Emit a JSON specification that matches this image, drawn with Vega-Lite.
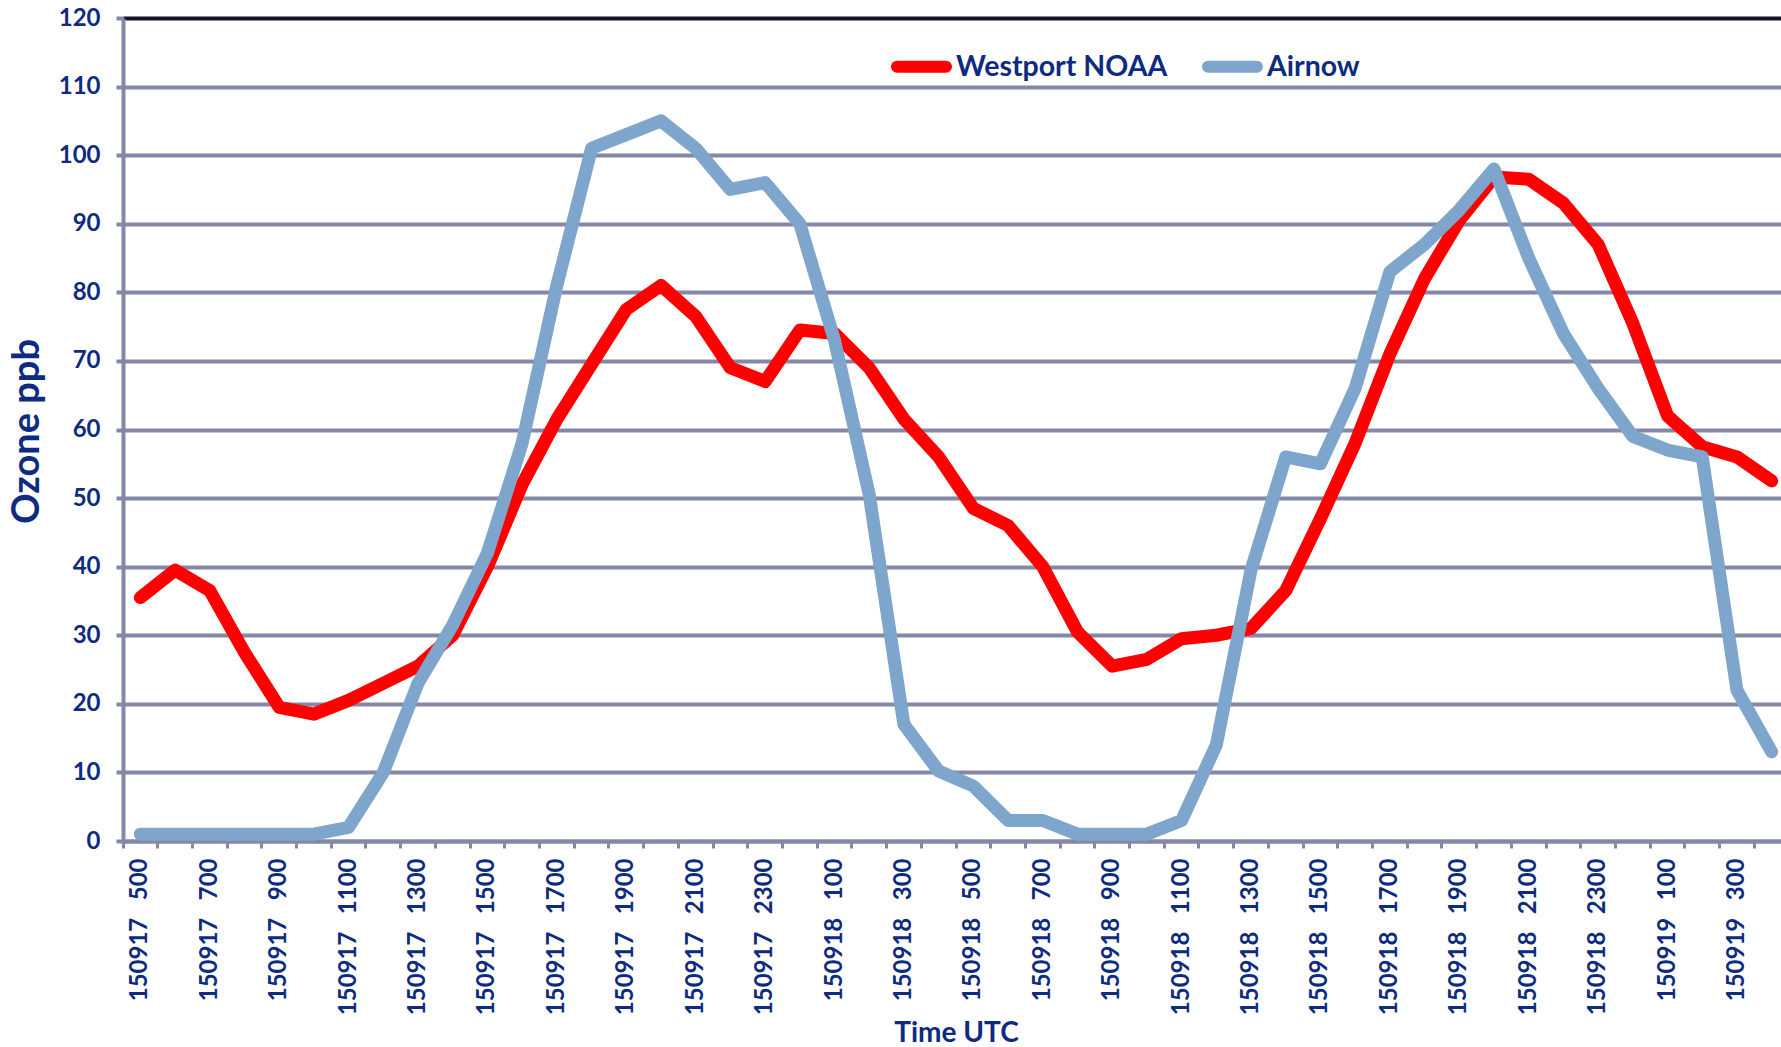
{
  "$schema": "https://vega.github.io/schema/vega-lite/v6.json",
  "width": 1658,
  "height": 823,
  "autosize": {"type": "none"},
  "padding": {"left": 123, "top": 18, "right": 0, "bottom": 206},
  "background": "white",
  "config": {"view": {"stroke": null}, "font": "Lato"},
  "data": {"values": [
    {"t":"150917 500","s":"Westport NOAA","v":35.5},
    {"t":"150917 600","s":"Westport NOAA","v":39.5},
    {"t":"150917 700","s":"Westport NOAA","v":36.5},
    {"t":"150917 800","s":"Westport NOAA","v":27.5},
    {"t":"150917 900","s":"Westport NOAA","v":19.5},
    {"t":"150917 1000","s":"Westport NOAA","v":18.5},
    {"t":"150917 1100","s":"Westport NOAA","v":20.5},
    {"t":"150917 1200","s":"Westport NOAA","v":23},
    {"t":"150917 1300","s":"Westport NOAA","v":25.5},
    {"t":"150917 1400","s":"Westport NOAA","v":30},
    {"t":"150917 1500","s":"Westport NOAA","v":40},
    {"t":"150917 1600","s":"Westport NOAA","v":52},
    {"t":"150917 1700","s":"Westport NOAA","v":61.5},
    {"t":"150917 1800","s":"Westport NOAA","v":69.5},
    {"t":"150917 1900","s":"Westport NOAA","v":77.5},
    {"t":"150917 2000","s":"Westport NOAA","v":81},
    {"t":"150917 2100","s":"Westport NOAA","v":76.5},
    {"t":"150917 2200","s":"Westport NOAA","v":69},
    {"t":"150917 2300","s":"Westport NOAA","v":67},
    {"t":"150918 0","s":"Westport NOAA","v":74.5},
    {"t":"150918 100","s":"Westport NOAA","v":74},
    {"t":"150918 200","s":"Westport NOAA","v":69},
    {"t":"150918 300","s":"Westport NOAA","v":61.5},
    {"t":"150918 400","s":"Westport NOAA","v":56},
    {"t":"150918 500","s":"Westport NOAA","v":48.5},
    {"t":"150918 600","s":"Westport NOAA","v":46},
    {"t":"150918 700","s":"Westport NOAA","v":40},
    {"t":"150918 800","s":"Westport NOAA","v":30.5},
    {"t":"150918 900","s":"Westport NOAA","v":25.5},
    {"t":"150918 1000","s":"Westport NOAA","v":26.5},
    {"t":"150918 1100","s":"Westport NOAA","v":29.5},
    {"t":"150918 1200","s":"Westport NOAA","v":30},
    {"t":"150918 1300","s":"Westport NOAA","v":31},
    {"t":"150918 1400","s":"Westport NOAA","v":36.5},
    {"t":"150918 1500","s":"Westport NOAA","v":47},
    {"t":"150918 1600","s":"Westport NOAA","v":58},
    {"t":"150918 1700","s":"Westport NOAA","v":71},
    {"t":"150918 1800","s":"Westport NOAA","v":82},
    {"t":"150918 1900","s":"Westport NOAA","v":90.5},
    {"t":"150918 2000","s":"Westport NOAA","v":96.8},
    {"t":"150918 2100","s":"Westport NOAA","v":96.5},
    {"t":"150918 2200","s":"Westport NOAA","v":93},
    {"t":"150918 2300","s":"Westport NOAA","v":87},
    {"t":"150919 0","s":"Westport NOAA","v":75.5},
    {"t":"150919 100","s":"Westport NOAA","v":62},
    {"t":"150919 200","s":"Westport NOAA","v":57.5},
    {"t":"150919 300","s":"Westport NOAA","v":56},
    {"t":"150919 400","s":"Westport NOAA","v":52.5},
    {"t":"150917 500","s":"Airnow","v":1},
    {"t":"150917 600","s":"Airnow","v":1},
    {"t":"150917 700","s":"Airnow","v":1},
    {"t":"150917 800","s":"Airnow","v":1},
    {"t":"150917 900","s":"Airnow","v":1},
    {"t":"150917 1000","s":"Airnow","v":1},
    {"t":"150917 1100","s":"Airnow","v":2},
    {"t":"150917 1200","s":"Airnow","v":10},
    {"t":"150917 1300","s":"Airnow","v":23},
    {"t":"150917 1400","s":"Airnow","v":31.5},
    {"t":"150917 1500","s":"Airnow","v":42},
    {"t":"150917 1600","s":"Airnow","v":58},
    {"t":"150917 1700","s":"Airnow","v":81},
    {"t":"150917 1800","s":"Airnow","v":101},
    {"t":"150917 1900","s":"Airnow","v":103},
    {"t":"150917 2000","s":"Airnow","v":105},
    {"t":"150917 2100","s":"Airnow","v":101},
    {"t":"150917 2200","s":"Airnow","v":95},
    {"t":"150917 2300","s":"Airnow","v":96},
    {"t":"150918 0","s":"Airnow","v":90},
    {"t":"150918 100","s":"Airnow","v":73},
    {"t":"150918 200","s":"Airnow","v":50.5},
    {"t":"150918 300","s":"Airnow","v":17},
    {"t":"150918 400","s":"Airnow","v":10.2},
    {"t":"150918 500","s":"Airnow","v":8},
    {"t":"150918 600","s":"Airnow","v":3},
    {"t":"150918 700","s":"Airnow","v":3},
    {"t":"150918 800","s":"Airnow","v":1},
    {"t":"150918 900","s":"Airnow","v":1},
    {"t":"150918 1000","s":"Airnow","v":1},
    {"t":"150918 1100","s":"Airnow","v":3},
    {"t":"150918 1200","s":"Airnow","v":14},
    {"t":"150918 1300","s":"Airnow","v":39.5},
    {"t":"150918 1400","s":"Airnow","v":56},
    {"t":"150918 1500","s":"Airnow","v":55},
    {"t":"150918 1600","s":"Airnow","v":66},
    {"t":"150918 1700","s":"Airnow","v":83},
    {"t":"150918 1800","s":"Airnow","v":87},
    {"t":"150918 1900","s":"Airnow","v":92},
    {"t":"150918 2000","s":"Airnow","v":98},
    {"t":"150918 2100","s":"Airnow","v":85},
    {"t":"150918 2200","s":"Airnow","v":74},
    {"t":"150918 2300","s":"Airnow","v":66},
    {"t":"150919 0","s":"Airnow","v":59},
    {"t":"150919 100","s":"Airnow","v":57},
    {"t":"150919 200","s":"Airnow","v":56},
    {"t":"150919 300","s":"Airnow","v":22},
    {"t":"150919 400","s":"Airnow","v":13}
  ]},
  "encoding": {
    "y": {
      "field": "v", "type": "quantitative",
      "scale": {"domain": [0, 120], "nice": false, "zero": true},
      "axis": {
        "values": [0,10,20,30,40,50,60,70,80,90,100,110,120],
        "title": "Ozone ppb",
        "titleFont": "Lato", "titleFontSize": 38, "titleFontWeight": "bold", "titleColor": "#0d2b80",
        "titleAngle": -90, "titleX": -85, "titleY": 413, "titleAlign": "center", "titleBaseline": "alphabetic",
        "labelFont": "Lato", "labelFontSize": 24, "labelFontWeight": "bold", "labelColor": "#0d2b80",
        "labelPadding": 16,
        "domainColor": "#8487a8", "domainWidth": 4,
        "tickColor": "#8487a8", "tickWidth": 4, "tickSize": 7,
        "grid": true, "gridWidth": 4,
        "gridColor": {"condition": {"test": "datum.value == 120", "value": "#15152a"}, "value": "#8487a8"}
      }
    },
    "color": {
      "field": "s", "type": "nominal",
      "scale": {"domain": ["Westport NOAA", "Airnow"], "range": ["#ff0000", "#7ea6cd"]},
      "legend": {
        "orient": "none", "legendX": 768, "legendY": 18, "direction": "horizontal", "title": null,
        "symbolType": "stroke", "symbolStrokeWidth": 12, "symbolSize": 2401,
        "labelFont": "Lato", "labelFontSize": 28.5, "labelFontWeight": "bold", "labelColor": "#0d2b80",
        "labelOffset": 4, "labelLimit": 500, "columnPadding": 16,
        "encode": {"symbols": {"update": {"strokeCap": {"value": "round"}}}}
      }
    }
  },
  "layer": [
    {
      "transform": [{"filter": "datum.s == 'Westport NOAA'"}],
      "mark": {"type": "line", "strokeWidth": 13, "strokeCap": "round", "strokeJoin": "round"},
      "encoding": {
        "x": {
          "field": "t", "type": "ordinal", "sort": null, "bandPosition": 0.5,
          "scale": {"type": "band", "paddingInner": 0, "paddingOuter": 0, "rangeMax": 1666},
          "axis": {
            "orient": "bottom",
            "bandPosition": 0, "labels": false, "title": null, "grid": false,
            "domainColor": "#8487a8", "domainWidth": 4,
            "ticks": true, "tickColor": "#8487a8", "tickWidth": 3, "tickSize": 7
          }
        }
      }
    },
    {
      "transform": [{"filter": "datum.s == 'Airnow'"}],
      "mark": {"type": "line", "strokeWidth": 13, "strokeCap": "round", "strokeJoin": "round"},
      "encoding": {
        "x": {
          "field": "t", "type": "ordinal", "sort": null, "bandPosition": 0.5,
          "axis": {
            "orient": "bottom",
            "bandPosition": 0.5, "domain": false, "ticks": false, "tickSize": 0, "grid": false,
            "labelAngle": -90, "labelAlign": "right", "labelBaseline": "middle",
            "labelFont": "Lato", "labelFontSize": 24, "labelFontWeight": "bold", "labelColor": "#0d2b80",
            "labelPadding": 17, "labelOverlap": false, "labelLimit": 300,
            "labelExpr": "(floor(toNumber(split(datum.label, ' ')[1]) / 100) % 2 == 1) ? replace(datum.label, ' ', '\u00a0\u00a0\u00a0') : ''",
            "title": "Time UTC", "titleFont": "Lato", "titleFontSize": 28, "titleFontWeight": "bold", "titleColor": "#0d2b80",
            "titleY": 200, "titleBaseline": "alphabetic"
          }
        }
      }
    }
  ],
  "resolve": {"axis": {"x": "independent"}}
}
